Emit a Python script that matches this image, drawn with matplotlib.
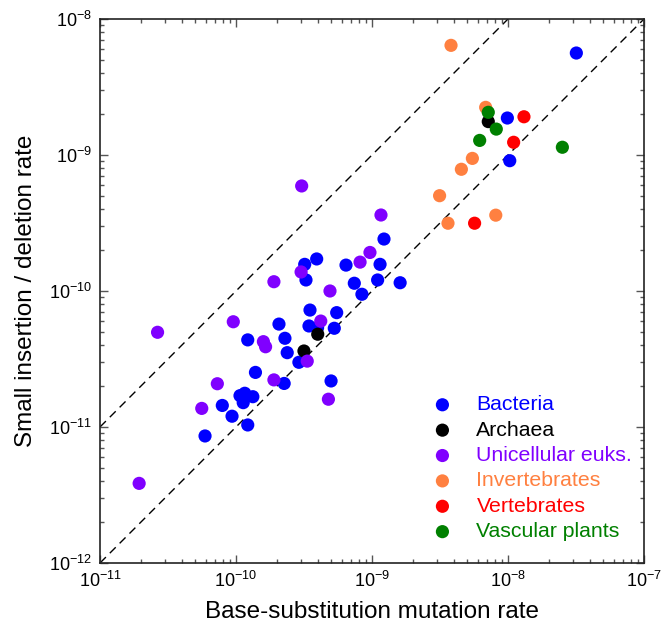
import matplotlib
matplotlib.use("Agg")
import matplotlib.pyplot as plt
import numpy as np

plt.rcParams['font.family'] = ['Liberation Sans', 'DejaVu Sans']
plt.rcParams['mathtext.fontset'] = 'custom'
plt.rcParams['mathtext.rm'] = 'Liberation Sans'
plt.rcParams['mathtext.it'] = 'Liberation Sans:italic'

# base-substitution rate (x) vs small indel rate (y)
bact_x = [1.225e-9, 3.92e-10, 3.20e-10, 6.44e-10, 1.146e-9, 3.27e-10, 1.10e-9, 7.41e-10,
          1.61e-9, 8.43e-10, 3.50e-10, 5.50e-10, 2.07e-10, 3.44e-10, 5.28e-10, 3.98e-10,
          1.22e-10, 2.29e-10, 2.38e-10, 2.90e-10, 1.39e-10, 2.26e-10, 5.00e-10, 1.07e-10,
          1.16e-10, 1.33e-10, 1.13e-10, 7.93e-11, 9.35e-11, 1.22e-10, 5.92e-11,
          3.18e-8, 9.89e-9, 1.03e-8]
bact_y = [2.41e-10, 1.72e-10, 1.57e-10, 1.55e-10, 1.57e-10, 1.205e-10, 1.205e-10, 1.14e-10,
          1.15e-10, 9.46e-11, 7.24e-11, 6.93e-11, 5.71e-11, 5.53e-11, 5.32e-11, 5.37e-11,
          4.37e-11, 4.49e-11, 3.52e-11, 2.99e-11, 2.52e-11, 2.09e-11, 2.18e-11, 1.70e-11,
          1.77e-11, 1.67e-11, 1.51e-11, 1.44e-11, 1.20e-11, 1.035e-11, 8.59e-12,
          5.62e-9, 1.87e-9, 9.08e-10]

arch_x = [3.99e-10, 3.16e-10, 7.16e-9]
arch_y = [4.81e-11, 3.62e-11, 1.76e-9]

uni_x = [3.04e-10, 1.164e-9, 9.66e-10, 8.17e-10, 3.01e-10, 1.90e-10, 4.91e-10, 9.55e-11,
         4.20e-10, 2.65e-11, 1.59e-10, 1.65e-10, 3.34e-10, 7.29e-11, 1.90e-10, 5.60e-11,
         4.78e-10, 1.94e-11]
uni_y = [5.92e-10, 3.62e-10, 1.92e-10, 1.63e-10, 1.38e-10, 1.17e-10, 1.0e-10, 5.94e-11,
         6.01e-11, 4.97e-11, 4.24e-11, 3.89e-11, 3.05e-11, 2.08e-11, 2.22e-11, 1.37e-11,
         1.60e-11, 3.85e-12]

inv_x = [3.81e-9, 6.85e-9, 5.47e-9, 4.54e-9, 3.14e-9, 3.62e-9, 8.13e-9]
inv_y = [6.40e-9, 2.24e-9, 9.44e-10, 7.85e-10, 5.02e-10, 3.15e-10, 3.61e-10]

vert_x = [1.31e-8, 1.10e-8, 5.68e-9]
vert_y = [1.91e-9, 1.24e-9, 3.15e-10]

plant_x = [7.16e-9, 8.20e-9, 6.19e-9, 2.51e-8]
plant_y = [2.06e-9, 1.55e-9, 1.28e-9, 1.14e-9]

groups = [
    ('Bacteria', bact_x, bact_y, '#0000ff'),
    ('Archaea', arch_x, arch_y, '#000000'),
    ('Unicellular euks.', uni_x, uni_y, '#8000ff'),
    ('Invertebrates', inv_x, inv_y, '#ff8040'),
    ('Vertebrates', vert_x, vert_y, '#ff0000'),
    ('Vascular plants', plant_x, plant_y, '#008000'),
]

fig = plt.figure(figsize=(6.64, 6.33), dpi=100)
ax = fig.add_axes([0.1506, 0.1106, 0.8193, 0.8594])

lims = np.array([1e-11, 1e-7])
ax.plot(lims, lims, color='k', lw=1, dashes=(6, 4), zorder=1)
ax.plot(lims, lims / 10, color='k', lw=1, dashes=(6, 4), zorder=1)

for name, xs, ys, col in groups:
    ax.scatter(xs, ys, s=90, color=col, edgecolors='none', label=name, zorder=2)

ax.set_xscale('log')
ax.set_yscale('log')
ax.set_xlim(1e-11, 1e-7)
ax.set_ylim(1e-12, 1e-8)

ax.tick_params(which='both', direction='in', top=True, right=True, color='#555555',
               labelsize=13)
ax.tick_params(which='major', length=6, width=1, pad=6)
ax.tick_params(which='minor', length=3, width=1)
for sp in ax.spines.values():
    sp.set_color('#222222')
    sp.set_linewidth(1.2)

ax.set_xlabel('Base-substitution mutation rate', fontsize=17.5, labelpad=7)
ax.set_ylabel('Small insertion / deletion rate', fontsize=17.5, labelpad=8)

leg = ax.legend(loc='lower left', bbox_to_anchor=(0.606, 0.04), frameon=False,
                fontsize=15.3, handlelength=1.2, handletextpad=1.0, labelspacing=0.3,
                borderpad=0, borderaxespad=0, scatterpoints=1)
for txt, (name, xs, ys, col) in zip(leg.get_texts(), groups):
    txt.set_color(col)

fig.savefig('out.png', dpi=100)
